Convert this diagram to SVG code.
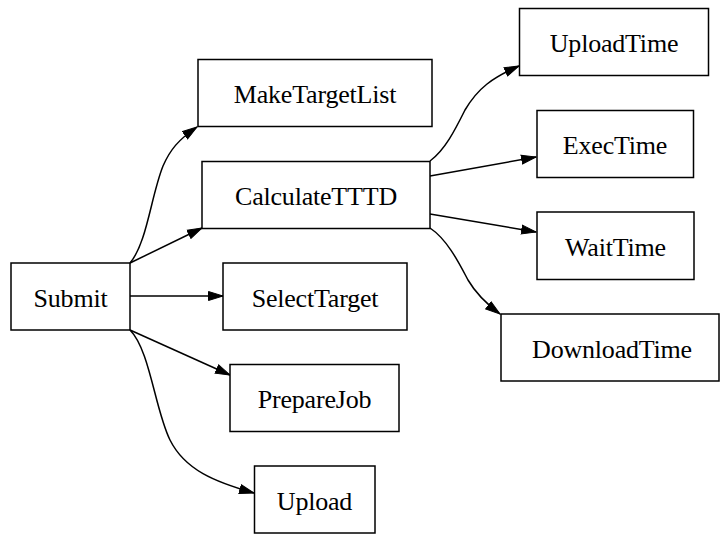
<svg xmlns="http://www.w3.org/2000/svg" width="720" height="534" viewBox="0 0 720 534">
<style>
.n rect{fill:#fff;stroke:#000;stroke-width:1.5}
.n text{font-family:"Liberation Serif","Times New Roman",serif;font-size:26px;text-anchor:middle;fill:#000;letter-spacing:-0.2px}
.e path{fill:none;stroke:#000;stroke-width:1.5;marker-end:url(#ah)}
</style>
<defs>
<marker id="ah" markerUnits="userSpaceOnUse" markerWidth="16" markerHeight="11" refX="15" refY="5" orient="auto" viewBox="0 0 16 10">
<path d="M0.5,0.5 L15,5 L0.5,9.5 z" fill="#000" stroke="#000" stroke-width="1"/>
</marker>
</defs>
<rect width="720" height="534" fill="#fff"/>
<g id="edges" class="e">
<path d="M130,263 C147,243 151,196 163,166 C170,150 178,140 197,127"/>
<path d="M130,263 L202,228"/>
<path d="M130,296 L223,296"/>
<path d="M130,330 L230,375"/>
<path d="M130,330 C150,350 155,410 170,440 C185,470 215,482 254,493"/>
<path d="M430,161 C445,150 455,130 465,110 C478,88 492,78 519,66"/>
<path d="M430,176 L536,157"/>
<path d="M430,214 L536,232"/>
<path d="M430,228 C448,240 460,265 468,280 C475,292 484,302 500,314"/>
</g>
<g id="Submit" class="n"><rect x="11" y="263" width="119" height="67"/><text x="70.5" y="306.5">Submit</text></g>
<g id="MakeTargetList" class="n"><rect x="198" y="59.5" width="234" height="67"/><text x="315" y="103">MakeTargetList</text></g>
<g id="CalculateTTTD" class="n"><rect x="202" y="161.5" width="228" height="67"/><text x="316" y="205">CalculateTTTD</text></g>
<g id="SelectTarget" class="n"><rect x="223" y="263" width="184" height="67"/><text x="315" y="306.5">SelectTarget</text></g>
<g id="PrepareJob" class="n"><rect x="230" y="364.5" width="169" height="67"/><text x="314.5" y="408">PrepareJob</text></g>
<g id="Upload" class="n"><rect x="254.5" y="466" width="120.5" height="67"/><text x="314.5" y="509.5">Upload</text></g>
<g id="UploadTime" class="n"><rect x="519.5" y="8.5" width="189" height="67"/><text x="614" y="52">UploadTime</text></g>
<g id="ExecTime" class="n"><rect x="537" y="110.5" width="156.5" height="67"/><text x="615" y="154">ExecTime</text></g>
<g id="WaitTime" class="n"><rect x="537" y="212" width="157" height="67.5"/><text x="615.5" y="255.5">WaitTime</text></g>
<g id="DownloadTime" class="n"><rect x="501" y="314" width="218" height="67"/><text x="612" y="357.5">DownloadTime</text></g>
</svg>
